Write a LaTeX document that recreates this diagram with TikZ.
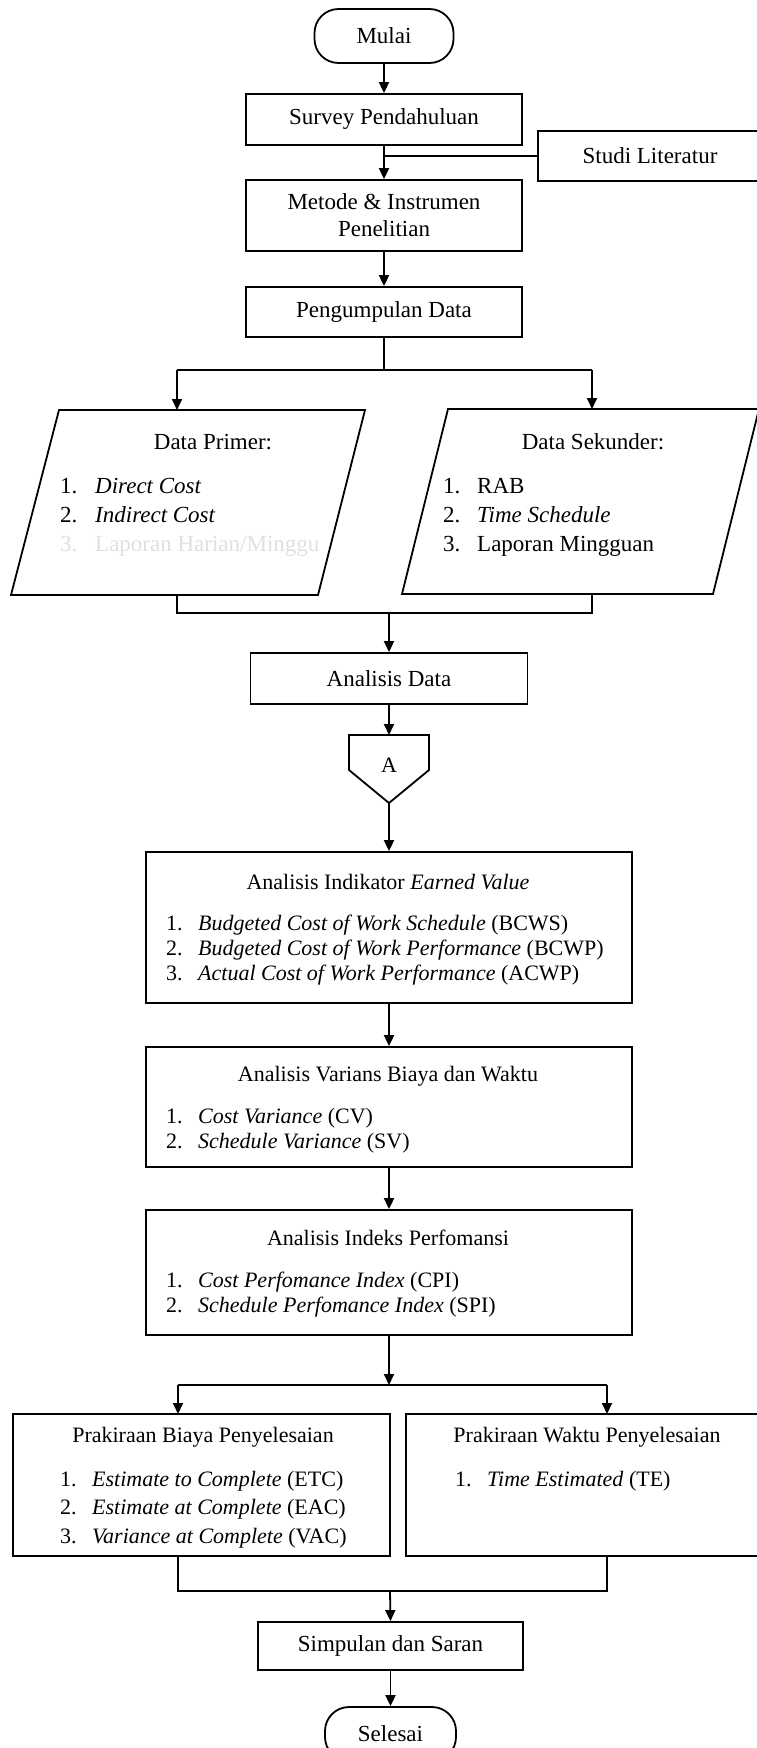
\documentclass[tikz,border=0pt]{standalone}
\usepackage{fontspec}
\setmainfont{Liberation Serif}
\usetikzlibrary{arrows.meta}
\begin{document}
\begin{tikzpicture}[x=1pt,y=-1pt]
\tikzset{
  box/.style={draw, line width=1.8pt, inner sep=0pt, align=center, font=\fontsize{23}{27}\selectfont},
  arr/.style={-{Triangle[length=11pt,width=10pt]}, line width=1.8pt},
  ln/.style={line width=1.8pt},
  ttlA/.style={inner sep=0pt, anchor=base, font=\fontsize{23}{29}\selectfont},
  ttlB/.style={inner sep=0pt, anchor=base, font=\fontsize{22}{25}\selectfont},
  lstA/.style={inner sep=0pt, anchor=base west, font=\fontsize{23}{29}\selectfont},
  lstB/.style={inner sep=0pt, anchor=base west, font=\fontsize{22}{25}\selectfont},
  lstC/.style={inner sep=0pt, anchor=base west, font=\fontsize{22}{28.5}\selectfont},
}
\useasboundingbox[fill=white] (0,0) rectangle (756,1748);

% top part
\node[box, minimum width=139pt, minimum height=54pt, rounded corners=24pt] (mulai) at (384,36) {Mulai};
\node[box, minimum width=276pt, minimum height=51pt] (survey) at (384,119.5) {Survey Pendahuluan};
\node[box, minimum width=224pt, minimum height=50pt] (studi) at (650,156) {Studi Literatur};
\node[box, minimum width=276pt, minimum height=71pt] (metode) at (384,215.5) {Metode \& Instrumen\\Penelitian};
\node[box, minimum width=276pt, minimum height=50pt] (kumpul) at (384,312) {Pengumpulan Data};

\draw[arr] (mulai.south) -- (survey.north);
\draw[arr] (survey.south) -- (metode.north);
\draw[ln] (studi.west) -- (studi.west -| survey.south);
\draw[arr] (metode.south) -- (kumpul.north);

% branch to data
\coordinate (b1) at (384,370);
\coordinate (bl) at (177,370);
\coordinate (br) at (592,370);
\coordinate (ptop) at (177,410);
\coordinate (stop) at (592,409);
\draw[ln] (kumpul.south) -- (b1);
\draw[ln] (bl) -- (br);
\draw[arr] (bl) -- (ptop);
\draw[arr] (br) -- (stop);

% parallelograms
\coordinate (p1) at (59,410);
\coordinate (p2) at (365,410);
\coordinate (p3) at (318,595);
\coordinate (p4) at (11,595);
\draw[ln] (p1) -- (p2) -- (p3) -- (p4) -- cycle;
\coordinate (s1) at (448,409);
\coordinate (s2) at (759,409);
\coordinate (s3) at (713,594);
\coordinate (s4) at (402,594);
\draw[ln] (s1) -- (s2) -- (s3) -- (s4) -- cycle;

\node[ttlA] (prt) at (213,449) {Data Primer:};
\node[lstA] (prl) at (60,493) {\begin{tabular}[t]{@{}p{35pt}@{}l@{}}1.&\textit{Direct Cost}\\2.&\textit{Indirect Cost}\\\textcolor{black!12}{3.}&\textcolor{black!12}{Laporan Harian/Minggu}\end{tabular}};
\node[ttlA] (skt) at (593,449) {Data Sekunder:};
\node[lstA] (skl) at (443,493) {\begin{tabular}[t]{@{}p{34pt}@{}l@{}}1.&RAB\\2.&\textit{Time Schedule}\\3.&Laporan Mingguan\end{tabular}};

% merge
\coordinate (pbot) at (177,595);
\coordinate (sbot) at (592,594);
\coordinate (ml) at (177,613);
\coordinate (mr) at (592,613);
\coordinate (mm) at (389,613);
\draw[ln] (pbot) -- (ml) -- (mr) -- (sbot);

\node[box, minimum width=277pt, minimum height=51pt] (data) at (389,678.5) {Analisis Data};
\draw[arr] (mm) -- (data.north);

% connector A
\coordinate (a1) at (349,735);
\coordinate (a2) at (429,735);
\coordinate (a3) at (429,770);
\coordinate (a4) at (389,803);
\coordinate (a5) at (349,770);
\coordinate (atop) at (389,735);
\draw[ln] (a1) -- (a2) -- (a3) -- (a4) -- (a5) -- cycle;
\node[inner sep=0pt, font=\fontsize{22}{25}\selectfont] (atext) at (389,765) {A};
\draw[arr] (data.south) -- (atop);

% Analisis Indikator
\node[draw, ln, inner sep=0pt, minimum width=486pt, minimum height=151pt] (ind) at (389,927.5) {};
\draw[arr] (a4) -- (ind.north);
\node[ttlB] (indt) at (388,889) {Analisis Indikator \textit{Earned Value}};
\node[lstB] (indl) at (166,930) {\begin{tabular}[t]{@{}p{32pt}@{}l@{}}1.&\textit{Budgeted Cost of Work Schedule} (BCWS)\\2.&\textit{Budgeted Cost of Work Performance} (BCWP)\\3.&\textit{Actual Cost of Work Performance} (ACWP)\end{tabular}};

% Varians
\node[draw, ln, inner sep=0pt, minimum width=486pt, minimum height=120pt] (var) at (389,1107) {};
\draw[arr] (ind.south) -- (var.north);
\node[ttlB] (vart) at (388,1081) {Analisis Varians Biaya dan Waktu};
\node[lstB] (varl) at (166,1123) {\begin{tabular}[t]{@{}p{32pt}@{}l@{}}1.&\textit{Cost Variance} (CV)\\2.&\textit{Schedule Variance} (SV)\end{tabular}};

% Indeks
\node[draw, ln, inner sep=0pt, minimum width=486pt, minimum height=125pt] (idx) at (389,1272.5) {};
\draw[arr] (var.south) -- (idx.north);
\node[ttlB] (idxt) at (388,1245) {Analisis Indeks Perfomansi};
\node[lstB] (idxl) at (166,1287) {\begin{tabular}[t]{@{}p{32pt}@{}l@{}}1.&\textit{Cost Perfomance Index} (CPI)\\2.&\textit{Schedule Perfomance Index} (SPI)\end{tabular}};

% branch 2
\coordinate (c1) at (389,1385);
\coordinate (cl) at (178,1385);
\coordinate (cr) at (607,1385);
\draw[arr] (idx.south) -- (c1);
\draw[ln] (cl) -- (cr);

\node[draw, ln, inner sep=0pt, minimum width=377pt, minimum height=142pt] (biaya) at (201.5,1485) {};
\node[draw, ln, inner sep=0pt, minimum width=362pt, minimum height=142pt] (waktu) at (587,1485) {};
\coordinate (bt) at (178,1414);
\coordinate (wt) at (607,1414);
\draw[arr] (cl) -- (bt);
\draw[arr] (cr) -- (wt);

\node[ttlB] (biayat) at (203,1442) {Prakiraan Biaya Penyelesaian};
\node[lstC] (biayal) at (60,1486) {\begin{tabular}[t]{@{}p{32pt}@{}l@{}}1.&\textit{Estimate to Complete} (ETC)\\2.&\textit{Estimate at Complete} (EAC)\\3.&\textit{Variance at Complete} (VAC)\end{tabular}};
\node[ttlB] (waktut) at (587,1442) {Prakiraan Waktu Penyelesaian};
\node[lstC] (waktul) at (455,1486) {\begin{tabular}[t]{@{}p{32pt}@{}l@{}}1.&\textit{Time Estimated} (TE)\end{tabular}};

% merge 2
\coordinate (bb) at (178,1556);
\coordinate (wb) at (607,1556);
\coordinate (dl) at (178,1591);
\coordinate (dr) at (607,1591);
\coordinate (dm) at (390,1591);
\draw[ln] (bb) -- (dl) -- (dr) -- (wb);

\node[box, minimum width=265pt, minimum height=48pt] (simpul) at (390.5,1646) {Simpulan dan Saran};
\draw[arr] (dm) -- (simpul.north);
\node[box, minimum width=131pt, minimum height=54pt, rounded corners=24pt] (selesai) at (390.5,1734) {Selesai};
\draw[arr] (simpul.south) -- (selesai.north);
\end{tikzpicture}
\end{document}
